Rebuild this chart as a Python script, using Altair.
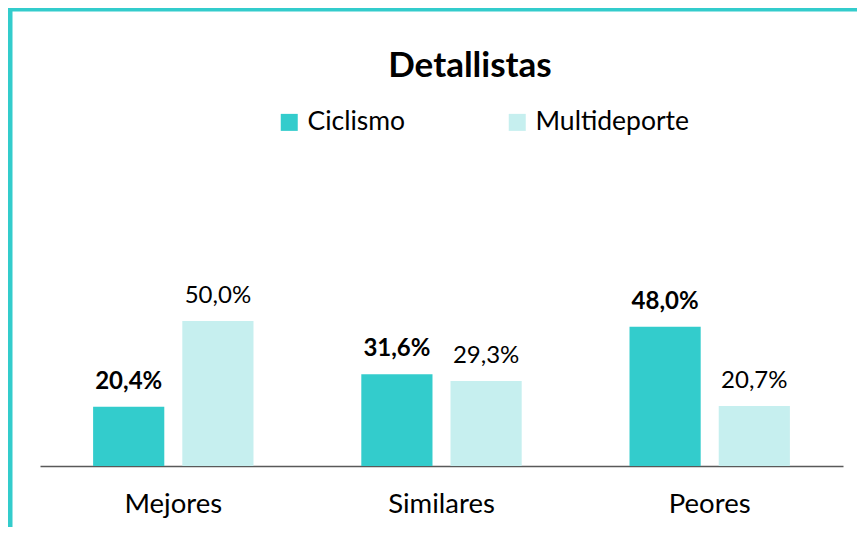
import altair as alt
import pandas as pd

TITLE = "Detallistas"
categories = ["Mejores", "Similares", "Peores"]
series = ["Ciclismo", "Multideporte"]
ciclismo = [20.4, 31.6, 48.0]
multideporte = [50.0, 29.3, 20.7]
colors = ["#33CCCC", "#C6EFEF"]
FONT = "Lato"

rows = []
for c, v in zip(categories, ciclismo):
    rows.append({"cat": c, "serie": "Ciclismo", "val": v})
for c, v in zip(categories, multideporte):
    rows.append({"cat": c, "serie": "Multideporte", "val": v})
df = pd.DataFrame(rows)
df["label"] = df["val"].map(lambda v: f"{v:.1f}%".replace(".", ","))

x_enc = alt.X("cat:N", sort=categories, title=None,
              scale=alt.Scale(paddingInner=0.402, paddingOuter=0.198),
              axis=alt.Axis(labelAngle=0, labelFontSize=27.5, labelFont=FONT,
                            labelColor="#000000", ticks=False, tickSize=0,
                            labelBaseline="alphabetic", labelPadding=46,
                            domainColor="#595959", domainWidth=1.5))
xo_enc = alt.XOffset("serie:N", sort=series,
                     scale=alt.Scale(paddingInner=0.202, paddingOuter=0))
y_enc = alt.Y("val:Q", scale=alt.Scale(domain=[0, 60]), axis=None)

base = alt.Chart(df)

bars = base.mark_bar().encode(
    x=x_enc, xOffset=xo_enc, y=y_enc,
    color=alt.Color("serie:N", sort=series,
                    scale=alt.Scale(domain=series, range=colors),
                    legend=alt.Legend(title=None, orient="none", direction="horizontal",
                                      legendX=236, legendY=-183, symbolType="square",
                                      symbolSize=289, symbolStrokeWidth=0,
                                      labelFontSize=26.5, labelFont=FONT,
                                      labelColor="#000000", labelOffset=5,
                                      columnPadding=98, padding=0)),
)

lab_bold = base.transform_filter(alt.datum.serie == "Ciclismo").mark_text(
    fontSize=24, font=FONT, fontWeight="bold", baseline="alphabetic", dy=-18,
    color="#000000").encode(x=x_enc, xOffset=xo_enc, y=y_enc, text="label:N")
lab_norm = base.transform_filter(alt.datum.serie == "Multideporte").mark_text(
    fontSize=24, font=FONT, baseline="alphabetic", dy=-18,
    color="#000000").encode(x=x_enc, xOffset=xo_enc, y=y_enc, text="label:N")

one = alt.Chart(alt.Data(values=[{"t": TITLE}]))
title = one.mark_text(fontSize=35, font=FONT, fontWeight="bold", baseline="alphabetic",
                      align="center", color="#000000").encode(
    x=alt.value(430), y=alt.value(-215), text="t:N")
frame_left = one.mark_rule(color="#33CCCC", strokeWidth=5).encode(
    x=alt.value(-30), y=alt.value(-285.5), y2=alt.value(260))
frame_top = one.mark_rule(color="#33CCCC", strokeWidth=5).encode(
    y=alt.value(-283), x=alt.value(-32.5), x2=alt.value(900))

chart = alt.layer(bars, lab_bold, lab_norm, title, frame_left, frame_top).properties(
    width=803, height=174,
    autosize=alt.AutoSizeParams(type="none"),
    padding={"left": 32, "top": 284, "right": 14, "bottom": 61},
).configure_view(stroke=None)

chart.save("out.html", embed_options={"renderer": "svg", "actions": False})
